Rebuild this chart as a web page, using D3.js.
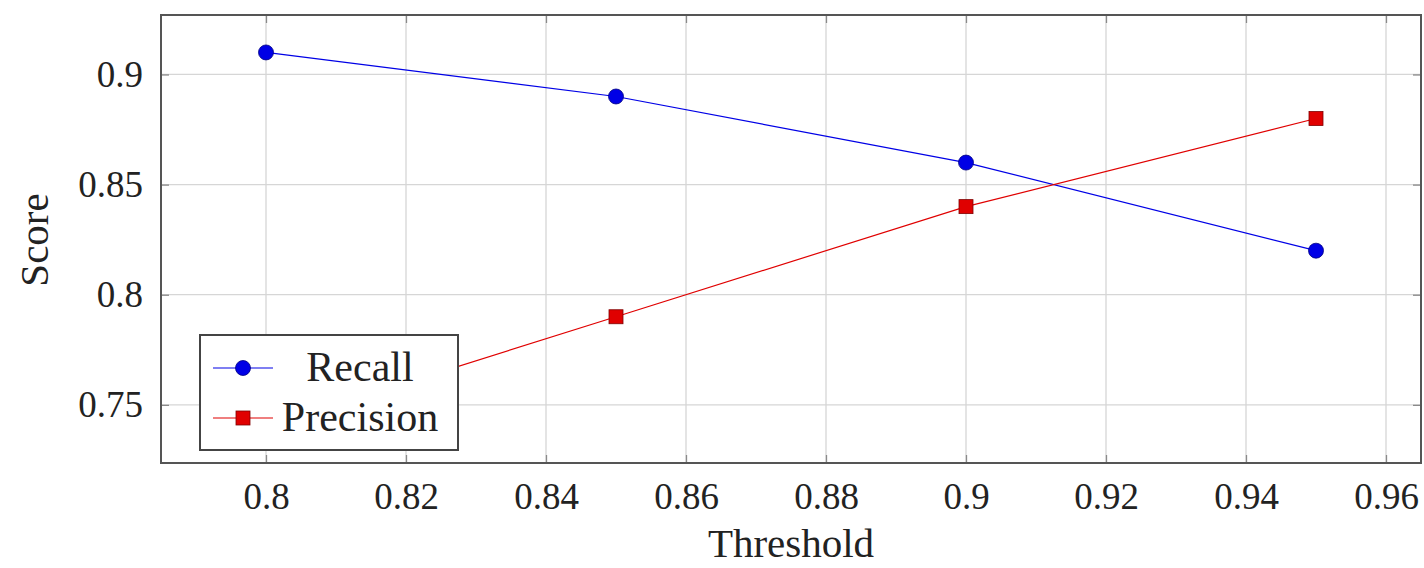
<!DOCTYPE html>
<html>
<head>
<meta charset="utf-8">
<script src="https://cdn.jsdelivr.net/npm/d3@7"></script>
<style>
  body { margin: 0; background: #fff; }
  svg text { font-family: "Liberation Serif", "DejaVu Serif", serif; fill: #222; }
</style>
</head>
<body>
<div id="chart"></div>
<script>
// Data
var thresholds = [0.8, 0.85, 0.9, 0.95];
var recall = [0.91, 0.89, 0.86, 0.82];
var precision = [0.74, 0.79, 0.84, 0.88];
var xTicks = [0.8, 0.82, 0.84, 0.86, 0.88, 0.9, 0.92, 0.94, 0.96];
var yTicks = [0.75, 0.8, 0.85, 0.9];

var width = 1424, height = 568,
  margin = {top: 15, right: 3, bottom: 105, left: 161};

var svg = d3.select('#chart').append('svg')
  .attr('width', width)
  .attr('height', height);

var x = d3.scaleLinear().domain([0.785, 0.965]).range([margin.left, width - margin.right]);
var y = d3.scaleLinear().domain([0.7236, 0.927]).range([height - margin.bottom, margin.top]);

// Grid
svg.append('g').selectAll('line.gx').data(xTicks).enter().append('line')
  .attr('x1', d => x(d)).attr('x2', d => x(d))
  .attr('y1', y.range()[1]).attr('y2', y.range()[0])
  .attr('stroke', '#d6d6d6').attr('stroke-width', 1.3);
svg.append('g').selectAll('line.gy').data(yTicks).enter().append('line')
  .attr('y1', d => y(d)).attr('y2', d => y(d))
  .attr('x1', x.range()[0]).attr('x2', x.range()[1])
  .attr('stroke', '#d6d6d6').attr('stroke-width', 1.3);

// Axes with inward ticks on all sides
function styleAxis(g) {
  g.select('.domain').remove();
  g.selectAll('.tick line').attr('stroke', '#8a8a8a').attr('stroke-width', 1.3);
  g.selectAll('.tick text').attr('font-size', 37).attr('fill', '#222')
    .attr('font-family', '"Liberation Serif", serif');
}
var fmt = d => String(+d.toFixed(2));

svg.append('g').attr('transform', 'translate(0,' + y.range()[0] + ')')
  .call(d3.axisBottom(x).tickValues(xTicks).tickFormat(fmt).tickSizeInner(-8).tickPadding(20))
  .call(styleAxis);
svg.append('g').attr('transform', 'translate(0,' + y.range()[1] + ')')
  .call(d3.axisTop(x).tickValues(xTicks).tickFormat('').tickSizeInner(-8))
  .call(styleAxis);
svg.append('g').attr('transform', 'translate(' + x.range()[0] + ',0)')
  .call(d3.axisLeft(y).tickValues(yTicks).tickFormat(fmt).tickSizeInner(-8).tickPadding(18))
  .call(styleAxis);
svg.append('g').attr('transform', 'translate(' + x.range()[1] + ',0)')
  .call(d3.axisRight(y).tickValues(yTicks).tickFormat('').tickSizeInner(-8))
  .call(styleAxis);

// Frame
svg.append('rect')
  .attr('x', x.range()[0]).attr('y', y.range()[1])
  .attr('width', x.range()[1] - x.range()[0])
  .attr('height', y.range()[0] - y.range()[1])
  .attr('fill', 'none').attr('stroke', '#555').attr('stroke-width', 2);

// Series
var series = [
  {name: 'Recall', values: recall, color: '#0000e6', marker: 'circle'},
  {name: 'Precision', values: precision, color: '#e00000', marker: 'square'}
];
var line = d3.line().x((d, i) => x(thresholds[i])).y(d => y(d));

function drawMarker(g, s, cx, cy) {
  if (s.marker === 'circle') {
    g.append('circle').attr('cx', cx).attr('cy', cy).attr('r', 7.5)
      .attr('fill', s.color).attr('stroke', '#000080').attr('stroke-width', 0.8);
  } else {
    g.append('rect').attr('x', cx - 7).attr('y', cy - 7).attr('width', 14).attr('height', 14)
      .attr('fill', s.color).attr('stroke', '#800000').attr('stroke-width', 0.8);
  }
}

series.forEach(function (s) {
  var g = svg.append('g');
  g.append('path').datum(s.values).attr('d', line)
    .attr('fill', 'none').attr('stroke', s.color).attr('stroke-width', 1.2);
  s.values.forEach(function (v, i) { drawMarker(g, s, x(thresholds[i]), y(v)); });
});

// Legend
var lg = svg.append('g');
lg.append('rect').attr('x', 200).attr('y', 335).attr('width', 258).attr('height', 115)
  .attr('fill', '#fff').attr('stroke', '#444').attr('stroke-width', 2);
series.forEach(function (s, i) {
  var ly = 368 + i * 50;
  lg.append('line').attr('x1', 213).attr('x2', 273).attr('y1', ly).attr('y2', ly)
    .attr('stroke', s.color).attr('stroke-width', 1.2);
  drawMarker(lg, s, 243, ly);
  lg.append('text').attr('x', 360).attr('y', ly + 13).attr('text-anchor', 'middle')
    .attr('font-size', 42).text(s.name);
});

// Axis titles
svg.append('text').attr('x', 791).attr('y', 557)
  .attr('text-anchor', 'middle').attr('font-size', 41).text('Threshold');
svg.append('text').attr('transform', 'translate(48,' + 240 + ') rotate(-90)')
  .attr('text-anchor', 'middle').attr('font-size', 41).text('Score');
</script>
</body>
</html>
